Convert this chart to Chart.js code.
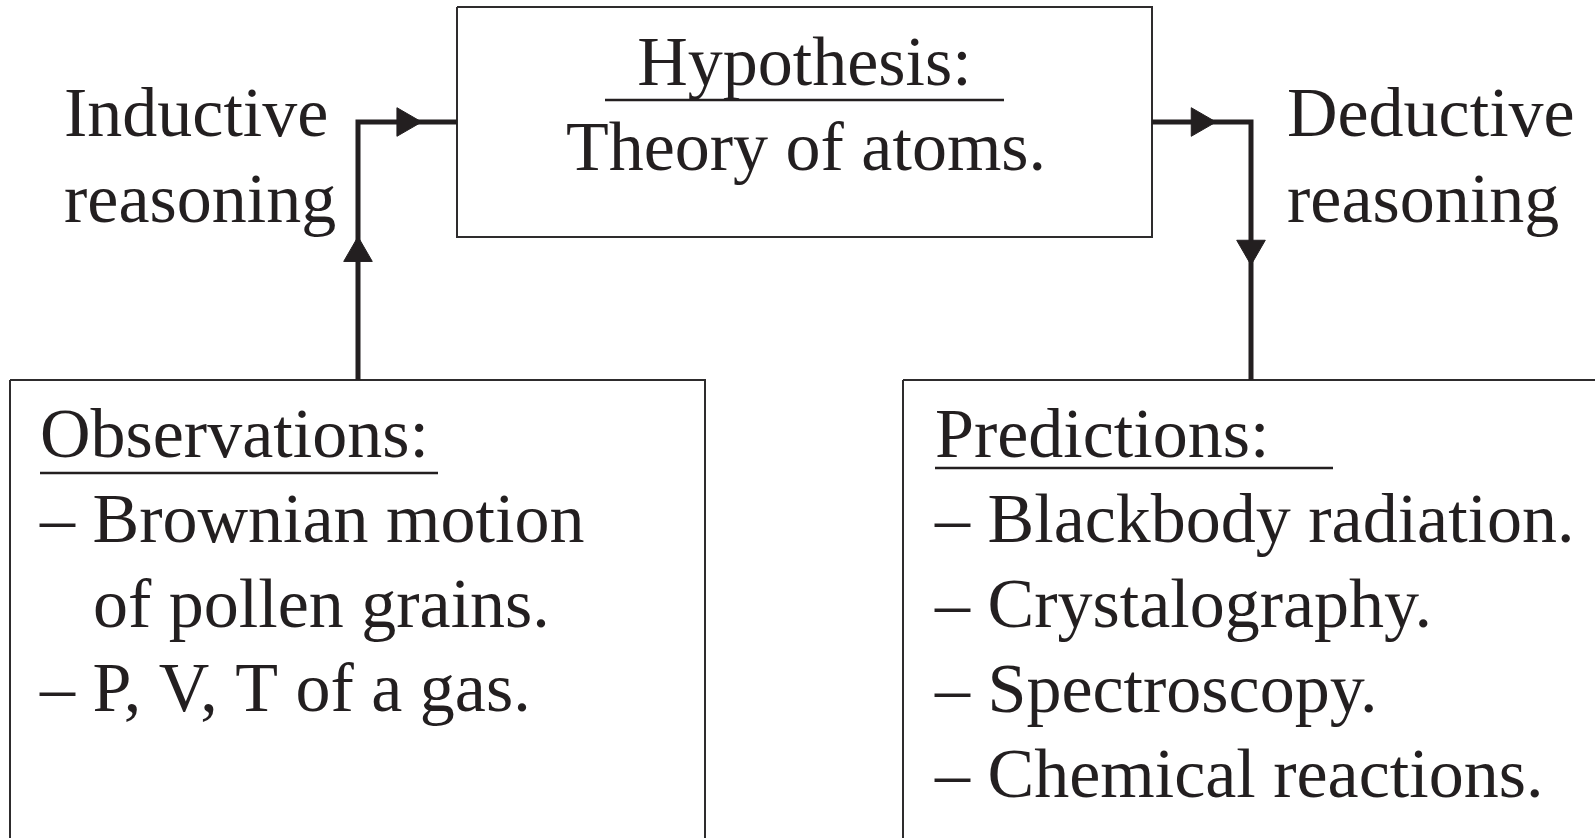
<!DOCTYPE html>
<html>
<head>
<meta charset="utf-8">
<script src="https://cdn.jsdelivr.net/npm/chart.js@4"></script>
<style>
  html, body { margin: 0; padding: 0; background: #fff; }
  #wrap { width: 1595px; height: 838px; }
</style>
</head>
<body>
<div id="wrap"><canvas id="diagram" width="1595" height="838"></canvas></div>
<script>
const INK = "#231f20";

// boxes (diagram units, y grows downward)
const boxLeft = [457, 10, 903];
const boxTop = [7, 380, 380];
const boxRight = [1152, 705, 1620];
const boxBottom = [237, 870, 870];

// connectors
const inductivePath = [[358, 380], [358, 122], [457, 122]];
const deductivePath = [[1152, 122], [1251, 122], [1251, 380]];

// arrowheads (centre) and direction in degrees
const arrowX = [358, 405.2, 1199.5, 1251];
const arrowY = [253.2, 122, 122, 248.5];
const arrowRot = [0, 90, 90, 180];

// underlines under the box headings
const underlineX1 = [605, 40, 935];
const underlineX2 = [1004, 438, 1333];
const underlineY = [100, 473, 468];

// text
const labelText = [
  "Inductive", "reasoning", "Deductive", "reasoning",
  "Hypothesis:", "Theory of atoms.",
  "Observations:", "\u2013 Brownian motion", "of pollen grains.", "\u2013 P, V, T of a gas.",
  "Predictions:", "\u2013 Blackbody radiation.", "\u2013 Crystalography.", "\u2013 Spectroscopy.", "\u2013 Chemical reactions."
];
const labelX = [64, 64, 1287, 1287, 804.5, 806, 40, 40, 93, 40, 935, 935, 935, 935, 935];
const labelY = [136, 222, 136, 222, 85, 170, 457, 542, 627, 711, 457, 542, 627, 712, 797];
const labelAlign = ["left", "left", "left", "left", "center", "center",
  "left", "left", "left", "left", "left", "left", "left", "left", "left"];

const toPoints = path => path.map(p => ({ x: p[0], y: p[1] }));

const boxSets = boxLeft.map((l, i) => ({
  data: toPoints([[l, boxTop[i]], [boxRight[i], boxTop[i]], [boxRight[i], boxBottom[i]], [l, boxBottom[i]], [l, boxTop[i]]]),
  showLine: true,
  borderColor: "#2e2c2d",
  borderWidth: 2,
  pointRadius: 0,
  borderJoinStyle: "miter"
}));

const underlineSets = underlineX1.map((x1, i) => ({
  data: toPoints([[x1, underlineY[i]], [underlineX2[i], underlineY[i]]]),
  showLine: true,
  borderColor: INK,
  borderWidth: 2.5,
  pointRadius: 0
}));

const connectorSets = [inductivePath, deductivePath].map(path => ({
  data: toPoints(path),
  showLine: true,
  borderColor: INK,
  borderWidth: 5,
  pointRadius: 0,
  borderJoinStyle: "miter"
}));

const arrowSet = {
  data: arrowX.map((x, i) => ({ x, y: arrowY[i] })),
  showLine: false,
  pointStyle: "triangle",
  pointRadius: 16.5,
  pointRotation: arrowRot,
  pointBackgroundColor: INK,
  pointBorderColor: INK,
  pointBorderWidth: 1
};

const textPlugin = {
  id: "diagramText",
  afterDatasetsDraw(chart) {
    const { ctx, scales: { x, y } } = chart;
    ctx.save();
    ctx.fillStyle = INK;
    ctx.font = '70px "Liberation Serif", "Times New Roman", serif';
    ctx.textBaseline = "alphabetic";
    labelText.forEach((t, i) => {
      ctx.textAlign = labelAlign[i];
      ctx.fillText(t, x.getPixelForValue(labelX[i]), y.getPixelForValue(labelY[i]));
    });
    ctx.restore();
  }
};

new Chart(document.getElementById("diagram"), {
  type: "scatter",
  data: { datasets: [arrowSet, ...connectorSets, ...underlineSets, ...boxSets] },
  options: {
    responsive: false,
    animation: false,
    events: [],
    layout: { padding: 0, autoPadding: false },
    plugins: { legend: { display: false }, tooltip: { enabled: false } },
    scales: {
      x: { type: "linear", min: 0, max: 1595, display: false },
      y: { type: "linear", min: 0, max: 838, reverse: true, display: false }
    }
  },
  plugins: [textPlugin]
});
</script>
</body>
</html>
